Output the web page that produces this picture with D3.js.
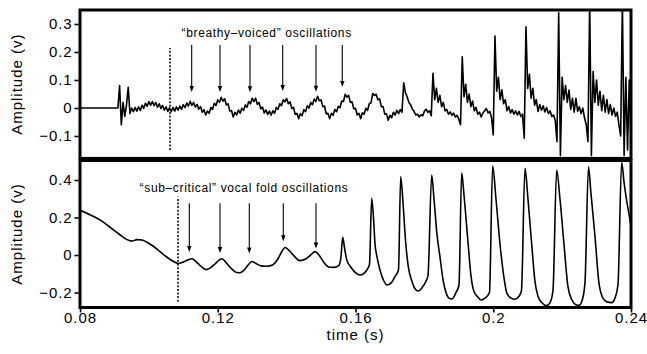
<!DOCTYPE html>
<html><head><meta charset="utf-8">
<script src="https://cdn.jsdelivr.net/npm/d3@7"></script>
<style>body{margin:0;background:#fff}svg{display:block}</style>
</head><body><svg id="c" width="647" height="354"></svg>
<script>
// ---- data ----
const xTicks = [0.08, 0.12, 0.16, 0.2, 0.24];
const xTickLabels = ["0.08", "0.12", "0.16", "0.2", "0.24"];
const topYTicks = [-0.1, 0, 0.1, 0.2, 0.3];
const topYTickLabels = ["\u22120.1", "0", "0.1", "0.2", "0.3"];
const botYTicks = [-0.2, 0, 0.2, 0.4];
const botYTickLabels = ["\u22120.2", "0", "0.2", "0.4"];

// top panel: sampled trace, start time and sample step (s)
const topStart = 0.08, topStep = 0.0005;
const topValues = [
0,0,0,0,0,0,0,0,0,0,
0,0,0,0,0,0,0,0,0,0,
0,0,0,0.08,-0.06,0.02,-0.03,0.01,0.074,-0.02,
0,-0.013,0.002,-0.011,0.004,-0.009,0.01,-0.001,0.017,0.006,
0.023,0.01,0.023,0.008,0.02,0.003,0.015,-0.002,0.009,-0.008,
0.004,-0.012,0.001,-0.013,0.002,-0.011,0.004,-0.008,0.007,-0.005,
0.012,0.001,0.018,0.007,0.024,0.009,0.02,0.003,0.013,-0.004,
0.005,-0.015,-0.006,-0.025,-0.011,-0.019,0.002,-0.005,0.017,0.009,
0.029,0.02,0.038,0.024,0.033,0.011,0.015,-0.011,-0.009,-0.032,
-0.015,-0.025,-0.007,-0.019,-0.001,-0.009,0.011,0.003,0.023,0.015,
0.035,0.023,0.035,0.013,0.019,-0.003,0.003,-0.018,-0.007,-0.023,
-0.011,-0.026,-0.01,-0.019,0.002,-0.005,0.015,0.008,0.029,0.022,
0.034,0.015,0.022,-0.002,0.002,-0.023,-0.019,-0.038,-0.02,-0.027,
-0.006,-0.013,0.008,0,0.02,0.012,0.032,0.023,0.042,0.026,
0.029,0.005,0.007,-0.021,-0.019,-0.038,-0.019,-0.026,-0.005,-0.013,
0.006,0.001,0.025,0.023,0.049,0.039,0.045,0.02,0.022,-0.003,
-0.001,-0.025,-0.019,-0.038,-0.017,-0.022,-0.001,-0.009,0.015,0.018,
0.052,0.045,0.049,0.029,0.033,0.005,0.005,-0.022,-0.021,-0.044,
-0.026,-0.035,-0.015,-0.025,-0.008,-0.02,-0.006,-0.015,0.09,0.055,
0.04,0.02,0.012,-0.004,-0.012,-0.025,-0.022,-0.032,-0.024,-0.028,
-0.012,-0.004,-0.016,-0.01,-0.028,0.124,0.03,0.07,0.02,0.045,
0.005,0.02,-0.01,-0.005,-0.022,-0.014,-0.026,-0.018,-0.032,-0.026,
-0.04,-0.06,0.183,0.04,0.085,0.02,0.05,0.005,0.025,-0.01,
0.002,-0.022,-0.015,-0.032,-0.018,-0.01,-0.002,-0.018,-0.012,-0.035,
-0.096,0.257,0.06,0.11,0.03,0.065,0.015,0.03,-0.01,0.005,
-0.018,-0.006,-0.022,-0.01,-0.025,-0.012,-0.03,-0.022,-0.108,0.29,
0.07,0.12,0.035,0.07,0.01,0.03,-0.012,0.012,-0.008,0.008,
-0.014,0.002,-0.02,-0.01,-0.03,-0.025,-0.045,-0.12,0.34,-0.17,
0.11,0.03,0.08,0.02,0.064,-0.005,0.035,-0.015,0.035,-0.012,
0.005,-0.02,0,-0.035,-0.06,-0.12,0.38,-0.17,0.13,0.02,
0.1,0.01,0.06,-0.01,0.045,-0.015,0.03,-0.02,0.012,-0.025,
0,-0.03,-0.015,-0.06,-0.1,0.38,-0.17,0.11,-0.15,0.1,
-0.12
];

// bottom panel: smooth trace
const botTimes = [
0.08,0.0829,0.08581,0.08871,0.09161,0.09365,0.0951,0.09655,0.098,0.09945,
0.1012,0.10323,0.10526,0.10729,0.10846,0.10991,0.11136,0.11252,0.11368,0.11513,
0.11659,0.11775,0.1192,0.12036,0.12123,0.12239,0.12384,0.1253,0.12646,0.12791,
0.12907,0.12994,0.1311,0.13256,0.1343,0.13604,0.13749,0.13865,0.13952,0.14069,
0.14214,0.14388,0.14562,0.14707,0.14823,0.1494,0.15085,0.1523,0.15375,0.1552,
0.15578,0.15628,0.1568,0.15744,0.15869,0.16014,0.1613,0.16246,0.16362,0.16406,
0.1647,0.16522,0.16566,0.16624,0.16711,0.16827,0.16914,0.1703,0.17146,0.17248,
0.17312,0.17379,0.17451,0.17533,0.1764,0.17727,0.17823,0.1793,0.18046,0.18105,
0.18212,0.18279,0.18366,0.18453,0.1854,0.18627,0.18714,0.18801,0.18918,0.19005,
0.19083,0.1915,0.19266,0.19353,0.1944,0.19556,0.19643,0.1976,0.1989,0.19983,
0.20079,0.20195,0.20311,0.20398,0.20515,0.20631,0.20747,0.20819,0.20921,0.21008,
0.21124,0.21211,0.21299,0.21415,0.21551,0.21647,0.21734,0.21841,0.21937,0.22053,
0.2217,0.22286,0.22402,0.22489,0.22576,0.22663,0.22765,0.22837,0.22954,0.2307,
0.23186,0.23302,0.23438,0.23534,0.23621,0.23729,0.23796,0.23883,0.24
];
const botValues = [
0.24,0.215,0.187,0.148,0.108,0.082,0.074,0.082,0.08,0.068,
0.048,0.018,-0.012,-0.036,-0.045,-0.038,-0.026,-0.02,-0.035,-0.06,
-0.078,-0.07,-0.048,-0.027,-0.02,-0.04,-0.07,-0.092,-0.095,-0.075,
-0.048,-0.035,-0.045,-0.058,-0.06,-0.052,-0.02,0.02,0.04,0.025,
-0.005,-0.03,-0.02,0.002,0.018,0,-0.04,-0.064,-0.066,-0.055,
-0.01,0.094,0.04,-0.025,-0.065,-0.097,-0.107,-0.098,-0.07,-0.05,
0.302,0.2,0.06,-0.01,-0.08,-0.14,-0.16,-0.15,-0.115,-0.08,
0.418,0.28,0.08,-0.062,-0.14,-0.18,-0.192,-0.175,-0.14,-0.11,
0.427,0.3,0.11,-0.01,-0.13,-0.2,-0.23,-0.235,-0.2,-0.16,
0.439,0.32,0.07,-0.11,-0.195,-0.225,-0.24,-0.23,-0.2,0.475,
0.3,0.06,-0.12,-0.205,-0.23,-0.236,-0.22,-0.19,0.462,0.3,
0.04,-0.14,-0.22,-0.255,-0.27,-0.255,-0.19,0.453,0.3,0.06,
-0.17,-0.24,-0.265,-0.268,-0.245,-0.15,0.471,0.33,0.1,-0.15,
-0.23,-0.25,-0.254,-0.23,-0.16,0.495,0.39,0.28,0.16
];

// annotations
const topOnsetTime = 0.10613, topOnsetRange = [-0.15, 0.214];
const botOnsetTime = 0.10846, botOnsetRange = [-0.249, 0.311];
const topArrowTimes = [0.11243, 0.12065, 0.12936, 0.13886, 0.14852, 0.15616];
const topArrowTips = [0.057, 0.057, 0.056, 0.061, 0.058, 0.075];
const topArrowTail = 0.225;
const botArrowTimes = [0.11174, 0.12065, 0.12916, 0.13903, 0.14852];
const botArrowTips = [0.016, 0.011, 0.008, 0.073, 0.035];
const botArrowTail = 0.276;
const topNote = {t: 0.13421, v: 0.254, text: "\u201cbreathy\u2013voiced\u201d oscillations"};
const botNote = {t: 0.12762, v: 0.334, text: "\u201csub\u2013critical\u201d vocal fold oscillations"};

// ---- drawing ----
const FONT = "'Liberation Sans', Arial, Helvetica, sans-serif";
const svg = d3.select("#c");
const x = d3.scaleLinear().domain([0.08, 0.24]).range([80, 631]);
const yTop = d3.scaleLinear().domain([-0.18, 0.35]).range([158.4, 10]);
const yBot = d3.scaleLinear().domain([-0.28, 0.504]).range([307.5, 160.5]);

const defs = svg.append("defs");
defs.append("clipPath").attr("id", "clipTop").append("rect")
  .attr("x", x(0.08)).attr("y", yTop(0.35)).attr("width", x(0.24) - x(0.08)).attr("height", yTop(-0.18) - yTop(0.35));
defs.append("clipPath").attr("id", "clipBot").append("rect")
  .attr("x", x(0.08)).attr("y", yBot(0.504)).attr("width", x(0.24) - x(0.08)).attr("height", yBot(-0.28) - yBot(0.504));

const topData = topValues.map((v, i) => [topStart + i * topStep, v]);
const botData = botTimes.map((t, i) => [t, botValues[i]]);

svg.append("path").datum(topData)
  .attr("clip-path", "url(#clipTop)")
  .attr("fill", "none").attr("stroke", "#000").attr("stroke-width", 1.6).attr("stroke-linejoin", "round")
  .attr("d", d3.line().x(d => x(d[0])).y(d => yTop(d[1])));

svg.append("path").datum(botData)
  .attr("clip-path", "url(#clipBot)")
  .attr("fill", "none").attr("stroke", "#000").attr("stroke-width", 1.6).attr("stroke-linejoin", "round")
  .attr("d", d3.line().curve(d3.curveMonotoneX).x(d => x(d[0])).y(d => yBot(d[1])));

// dotted onset lines
svg.append("line")
  .attr("x1", x(topOnsetTime)).attr("x2", x(topOnsetTime))
  .attr("y1", yTop(topOnsetRange[0])).attr("y2", yTop(topOnsetRange[1]))
  .attr("stroke", "#000").attr("stroke-width", 1.5).attr("stroke-dasharray", "2,1.6");
svg.append("line")
  .attr("x1", x(botOnsetTime)).attr("x2", x(botOnsetTime))
  .attr("y1", yBot(botOnsetRange[0])).attr("y2", yBot(botOnsetRange[1]))
  .attr("stroke", "#000").attr("stroke-width", 1.5).attr("stroke-dasharray", "2,1.6");

// arrows
function arrows(times, tips, tail, y) {
  const g = svg.append("g");
  times.forEach((t, i) => {
    const px = x(t), y0 = y(tail), y1 = y(tips[i]);
    g.append("line").attr("x1", px).attr("x2", px).attr("y1", y0).attr("y2", y1 - 4)
      .attr("stroke", "#000").attr("stroke-width", 1.1);
    g.append("path").attr("d", `M${px - 2.2},${y1 - 6} L${px + 2.2},${y1 - 6} L${px},${y1} Z`).attr("fill", "#000");
  });
}
arrows(topArrowTimes, topArrowTips, topArrowTail, yTop);
arrows(botArrowTimes, botArrowTips, botArrowTail, yBot);

// annotation text
svg.append("text").attr("x", x(topNote.t)).attr("y", yTop(topNote.v))
  .attr("text-anchor", "middle").attr("font-family", FONT).attr("font-size", 12).attr("letter-spacing", 0.65)
  .text(topNote.text);
svg.append("text").attr("x", x(botNote.t)).attr("y", yBot(botNote.v))
  .attr("text-anchor", "middle").attr("font-family", FONT).attr("font-size", 12).attr("letter-spacing", 0.65)
  .text(botNote.text);

// frames
svg.append("rect").attr("x", x(0.08)).attr("y", yTop(0.35)).attr("width", x(0.24) - x(0.08)).attr("height", yTop(-0.18) - yTop(0.35))
  .attr("fill", "none").attr("stroke", "#000").attr("stroke-width", 3);
svg.append("rect").attr("x", x(0.08)).attr("y", yBot(0.504)).attr("width", x(0.24) - x(0.08)).attr("height", yBot(-0.28) - yBot(0.504))
  .attr("fill", "none").attr("stroke", "#000").attr("stroke-width", 3);

function styleAxis(g) {
  g.select(".domain").remove();
  g.selectAll(".tick line").attr("stroke", "#000").attr("stroke-width", 1.6);
  g.selectAll(".tick text").attr("font-family", FONT).attr("font-size", 15).attr("letter-spacing", 0.9).attr("fill", "#000");
}
svg.append("g").attr("transform", `translate(${x(0.08) - 1.5},0)`)
  .call(d3.axisLeft(yTop).tickValues(topYTicks).tickFormat((d, i) => topYTickLabels[i]).tickSize(4).tickPadding(2))
  .call(styleAxis);
svg.append("g").attr("transform", `translate(${x(0.08) - 1.5},0)`)
  .call(d3.axisLeft(yBot).tickValues(botYTicks).tickFormat((d, i) => botYTickLabels[i]).tickSize(4).tickPadding(2))
  .call(styleAxis);
svg.append("g").attr("transform", `translate(0,${yBot(-0.28) + 1})`)
  .call(d3.axisBottom(x).tickValues(xTicks).tickFormat((d, i) => xTickLabels[i]).tickSize(4).tickPadding(0))
  .call(styleAxis);

// axis titles
svg.append("text").attr("transform", `translate(22,${(yTop(0.35) + yTop(-0.18)) / 2}) rotate(-90)`)
  .attr("text-anchor", "middle").attr("font-family", FONT).attr("font-size", 15).attr("letter-spacing", 1)
  .text("Amplitude (v)");
svg.append("text").attr("transform", `translate(22,${(yBot(0.504) + yBot(-0.28)) / 2}) rotate(-90)`)
  .attr("text-anchor", "middle").attr("font-family", FONT).attr("font-size", 15).attr("letter-spacing", 1)
  .text("Amplitude (v)");
svg.append("text").attr("x", x(0.16)).attr("y", 340)
  .attr("text-anchor", "middle").attr("font-family", FONT).attr("font-size", 15).attr("letter-spacing", 1)
  .text("time (s)");
</script></body></html>
